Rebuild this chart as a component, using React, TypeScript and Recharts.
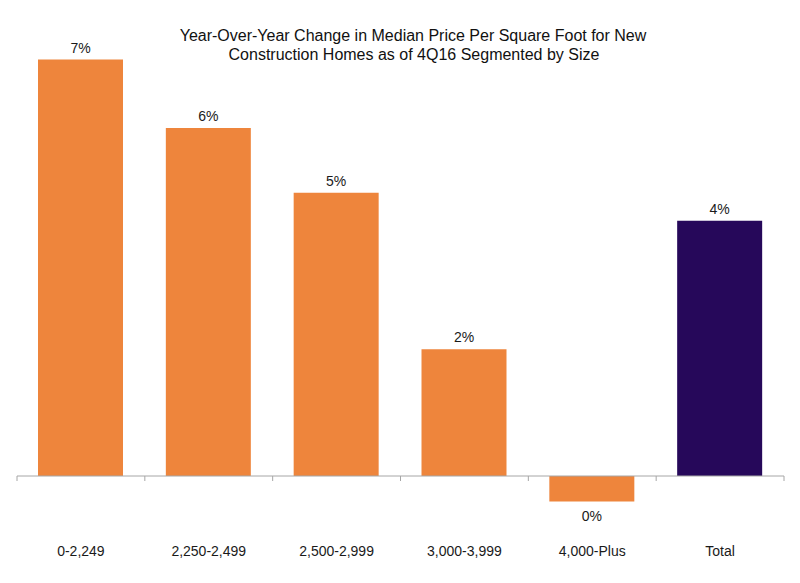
import React from 'react';
import { BarChart, Bar, XAxis, YAxis, Cell, LabelList, ReferenceLine } from 'recharts';

const categories = ['0-2,249', '2,250-2,499', '2,500-2,999', '3,000-3,999', '4,000-Plus', 'Total'];
const changes = [7.0, 5.85, 4.76, 2.13, -0.43, 4.29];
const barColors = ['#EE853C', '#EE853C', '#EE853C', '#EE853C', '#EE853C', '#26085A'];
const titleLines = [
  'Year-Over-Year Change in Median Price Per Square Foot for New',
  'Construction Homes as of 4Q16 Segmented by Size',
];

const data = categories.map((c, i) => ({ name: c, value: changes[i] }));
const FONT = '"Liberation Sans", Arial, sans-serif';

const ZeroAxis = (props: any) => {
  const { x1, y1, x2 } = props;
  if (x1 == null) return null;
  const n = categories.length;
  const step = (x2 - x1) / n;
  const ticks = [];
  for (let i = 0; i <= n; i++) {
    const x = x1 + i * step;
    ticks.push(<line key={i} x1={x} x2={x} y1={y1} y2={y1 + 5} stroke="#A6A6A6" strokeWidth={1} />);
  }
  return (
    <g>
      <line x1={x1} x2={x2} y1={y1} y2={y1} stroke="#A6A6A6" strokeWidth={1} />
      {ticks}
    </g>
  );
};

const renderLabel = (props: any) => {
  const { x, y, width, height, value } = props;
  const top = Math.min(y, y + height);
  const bottom = Math.max(y, y + height);
  const cy = value >= 0 ? top - 12 : bottom + 14;
  return (
    <text x={x + width / 2} y={cy} textAnchor="middle" dominantBaseline="central" fontSize={14} fill="#1a1a1a" fontFamily={FONT}>
      {`${Math.round(value)}%`}
    </text>
  );
};

const renderTick = (props: any) => {
  const { x, y, payload } = props;
  return (
    <text x={x} y={y + 21} textAnchor="middle" dominantBaseline="central" fontSize={14} fill="#1a1a1a" fontFamily={FONT}>
      {payload.value}
    </text>
  );
};

export default function App() {
  return (
    <div style={{ position: 'absolute', left: 0, top: 0, width: 800, height: 583, background: '#fff' }}>
      <BarChart width={800} height={583} data={data} margin={{ top: 29.75, right: 16, left: 17, bottom: 13.45 }}>
        <text x={413} y={35} textAnchor="middle" dominantBaseline="central" fontSize={16} fill="#111" fontFamily={FONT}>
          {titleLines[0]}
        </text>
        <text x={414} y={54} textAnchor="middle" dominantBaseline="central" fontSize={16} fill="#111" fontFamily={FONT}>
          {titleLines[1]}
        </text>
        <YAxis hide domain={[-0.9, 7.5]} allowDataOverflow />
        <XAxis dataKey="name" height={40} axisLine={false} tickLine={false} tickSize={0} tickMargin={0} tick={renderTick} interval={0} />
        <ReferenceLine y={0} shape={ZeroAxis} />
        <Bar dataKey="value" barSize={85} isAnimationActive={false}>
          {data.map((d, i) => (
            <Cell key={d.name} fill={barColors[i]} />
          ))}
          <LabelList dataKey="value" content={renderLabel} />
        </Bar>
      </BarChart>
    </div>
  );
}
